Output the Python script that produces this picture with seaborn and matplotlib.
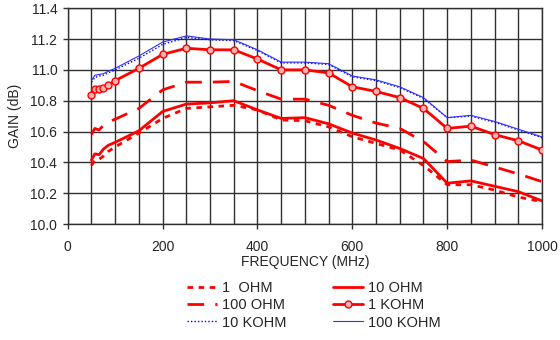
import matplotlib
matplotlib.use("Agg")
import matplotlib.pyplot as plt
import seaborn as sns
import pandas as pd

freq = [50, 57, 66, 75, 85, 100, 150, 200, 250, 300, 350, 400, 450, 500,
        550, 600, 650, 700, 750, 800, 850, 900, 950, 1000]

g_1ohm = [10.38, 10.415, 10.42, 10.44, 10.47, 10.50, 10.59, 10.685, 10.75, 10.76,
          10.77, 10.74, 10.675, 10.67, 10.63, 10.566, 10.523, 10.48, 10.38, 10.255,
          10.255, 10.22, 10.175, 10.145]
g_10ohm = [10.415, 10.455, 10.45, 10.485, 10.51, 10.53, 10.605, 10.73, 10.778, 10.786,
           10.80, 10.74, 10.685, 10.69, 10.65, 10.59, 10.545, 10.49, 10.425, 10.265,
           10.28, 10.245, 10.21, 10.15]
g_100ohm = [10.58, 10.62, 10.61, 10.64, 10.66, 10.68, 10.75, 10.87, 10.92, 10.92,
            10.925, 10.865, 10.81, 10.81, 10.77, 10.705, 10.655, 10.62, 10.535, 10.405,
            10.415, 10.37, 10.325, 10.275]
g_1kohm = [10.84, 10.875, 10.875, 10.885, 10.90, 10.93, 11.01, 11.10, 11.14, 11.13,
           11.13, 11.07, 11.00, 11.00, 10.98, 10.89, 10.86, 10.82, 10.75, 10.62,
           10.635, 10.58, 10.54, 10.48]
g_10kohm = [10.92, 10.95, 10.96, 10.965, 10.98, 11.00, 11.075, 11.165, 11.21, 11.195,
            11.19, 11.125, 11.045, 11.045, 11.035, 10.955, 10.93, 10.885, 10.815, 10.69,
            10.70, 10.66, 10.61, 10.56]
g_100kohm = [10.93, 10.965, 10.97, 10.975, 10.99, 11.01, 11.09, 11.18, 11.22, 11.20,
             11.195, 11.13, 11.05, 11.05, 11.04, 10.96, 10.935, 10.89, 10.82, 10.69,
             10.705, 10.665, 10.615, 10.565]

labels = ["1  OHM", "10 OHM", "100 OHM", "1 KOHM", "10 KOHM", "100 KOHM"]
series = [g_1ohm, g_10ohm, g_100ohm, g_1kohm, g_10kohm, g_100kohm]

xticks = [0, 200, 400, 600, 800, 1000]
yticks = [10.0, 10.2, 10.4, 10.6, 10.8, 11.0, 11.2, 11.4]

rows = []
for lab, vals in zip(labels, series):
    for f, v in zip(freq, vals):
        rows.append({"freq": f, "gain": v, "load": lab})
df = pd.DataFrame(rows)

sns.set_style("white")
plt.rcParams["font.family"] = ["Liberation Sans", "DejaVu Sans"]

fig = plt.figure(figsize=(5.6, 3.4), dpi=100)
ax = fig.add_axes([0.121, 0.341, 0.847, 0.635])

styles = {
    "1  OHM": dict(color="#ff0000", lw=2.0, ls=(0, (2, 2))),
    "10 OHM": dict(color="#ff0000", lw=2.0, ls="-"),
    "100 OHM": dict(color="#ff0000", lw=2.0, ls=(0, (6, 4))),
    "1 KOHM": dict(color="#ff0000", lw=2.0, ls="-", marker="o", ms=5,
                   mfc="#ffb0b0", mec="#ff0000", mew=1.0),
    "10 KOHM": dict(color="#0000ff", lw=1.0, ls=(0, (1, 1.5))),
    "100 KOHM": dict(color="#3030ff", lw=0.8, ls="-"),
}

handles = {}
for lab in labels:
    st = dict(styles[lab])
    sub = df[df["load"] == lab]
    color = st.pop("color")
    lw = st.pop("lw")
    ls = st.pop("ls")
    sns.lineplot(data=sub, x="freq", y="gain", ax=ax, color=color, linewidth=lw,
                 linestyle=ls, label=lab, legend=False, zorder=3, **st)
    handles[lab] = ax.get_lines()[-1]

ax.set_xlim(0, 1000)
ax.set_ylim(10.0, 11.4)
ax.set_xticks(xticks)
ax.set_xticks(range(0, 1001, 50), minor=True)
ax.set_yticks(yticks)
ax.set_yticklabels([f"{v:.1f}" for v in yticks])
ax.grid(True, which="major", color="#303030", lw=1.0)
ax.grid(True, which="minor", axis="x", color="#303030", lw=1.0)
ax.tick_params(axis="both", which="major", direction="out", length=3.5, width=1.0,
               color="#303030", labelsize=10, left=True, bottom=True)
ax.tick_params(axis="x", which="major", pad=8)
ax.tick_params(axis="y", which="major", pad=4)
ax.tick_params(axis="x", which="minor", length=0)
for s in ax.spines.values():
    s.set_color("#303030")
    s.set_linewidth(1.0)
ax.set_xlabel("FREQUENCY (MHz)", fontsize=10, labelpad=1)
ax.set_ylabel("GAIN (dB)", fontsize=10, labelpad=6)

order = ["1  OHM", "100 OHM", "10 KOHM", "10 OHM", "1 KOHM", "100 KOHM"]
fig.legend([handles[k] for k in order], order, ncol=2, frameon=False,
           loc="center", bbox_to_anchor=(0.56, 0.102), fontsize=10.5,
           handlelength=2.1, handletextpad=0.3, columnspacing=3.2,
           labelspacing=0.22, borderpad=0.0)

fig.savefig("out.png", dpi=100)
